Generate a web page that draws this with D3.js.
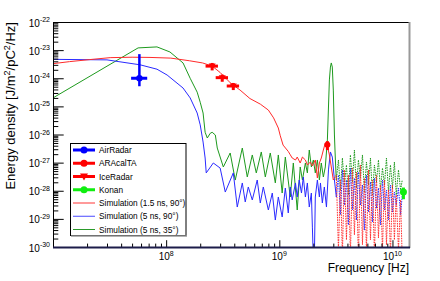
<!DOCTYPE html>
<html><head><meta charset="utf-8">
<script src="https://cdn.jsdelivr.net/npm/d3@7"></script>
<style>body{margin:0;background:#fff} text{font-family:"Liberation Sans",Arial,Helvetica,sans-serif}</style>
</head><body><svg id="c" width="440" height="281"></svg>
<script>
// ---------- data ----------
const xDomain = [1e7, 1.4e10];
const yDomain = [1e-30, 1e-22];
const xLabelExps = [8, 9, 10];
const yLabelExps = [-22, -23, -24, -25, -26, -27, -28, -29, -30];

// Simulation (1.5 ns, 90deg) - red, solid part
const sim15Freq = [1.0e7,1.4e7,2.1e7,3.2e7,5.0e7,7.2e7,1.1e8,1.6e8,2.1e8,2.55e8,3.0e8,3.7e8,4.5e8,5.5e8,6.8e8,8.0e8,8.9e8,9.8e8,1.02e9,1.08e9,1.2e9,1.25e9,1.30e9,1.39e9,1.44e9,1.53e9,1.60e9,1.70e9,1.77e9,1.88e9,1.96e9,2.08e9,2.17e9,2.26e9,2.35e9,2.45e9,2.55e9,2.66e9,2.77e9,2.88e9,3.00e9];
const sim15Val  = [3.3e-24,3.9e-24,4.6e-24,5.4e-24,5.6e-24,5.5e-24,5.2e-24,4.2e-24,3.5e-24,2.7e-24,1.6e-24,6.8e-25,3.8e-25,1.9e-25,1.2e-25,7.4e-26,3.9e-26,1.7e-26,9e-27,4.2e-27,2.5e-27,1.9e-27,1.46e-27,1.24e-27,1.58e-27,9.7e-28,1.58e-27,1.24e-27,8.2e-28,1.05e-27,7.6e-28,1.24e-27,2.84e-28,9.7e-28,1.46e-27,2.81e-27,5.0e-27,3.9e-27,1.87e-27,7.0e-28,2.41e-28];

// Simulation (5 ns, 90deg) - blue, solid part
const sim5Freq = [1.0e7,3.0e7,5.9e7,8.3e7,1.02e8,1.41e8,1.63e8,1.88e8,2.0e8,2.12e8,2.21e8,2.26e8,2.61e8,3.0e8,3.33e8,3.92e8,4.25e8,4.71e8,5.0e8,5.32e8,5.77e8,6.38e8,6.79e8,7.22e8,8.0e8,8.67e8,9.22e8,9.8e8,1.06e9,1.13e9,1.2e9,1.25e9,1.30e9,1.39e9,1.44e9,1.50e9,1.57e9,1.63e9,1.70e9,1.77e9,1.84e9,1.92e9,1.96e9,2.00e9,2.04e9,2.08e9,2.17e9,2.26e9,2.31e9,2.40e9,2.50e9,2.61e9,2.72e9,2.83e9,2.94e9,3.07e9,3.19e9];
const sim5Val  = [4.7e-24,4.5e-24,3.0e-24,2.1e-24,1.3e-24,4.5e-25,2.0e-25,5.8e-26,2.2e-26,5.4e-27,1.46e-27,4.3e-28,9.7e-28,6.4e-28,9.0e-29,4.3e-28,2.64e-29,1.89e-28,4.0e-29,1.36e-28,4.7e-29,2.41e-28,3.67e-29,1.36e-28,2.07e-29,8.3e-29,9.1e-30,6.0e-29,1.17e-29,1.25e-28,1.62e-29,1.36e-28,4.7e-29,1.89e-28,6.0e-29,2.41e-28,8.3e-29,3.08e-28,6.0e-29,1.89e-28,2.64e-29,8.3e-29,5.1e-30,3.5e-31,3.5e-31,6.0e-29,2.41e-28,6.0e-29,1.89e-28,3.67e-29,1.36e-28,2.64e-29,5.5e-28,2.39e-27,1.58e-27,2.41e-28,6.0e-29];

// Simulation (5 ns, 35deg) - green, solid part
const sim35Freq = [1.0e7,5.65e7,8.3e7,1.08e8,1.41e8,1.63e8,1.88e8,2.0e8,2.12e8,2.21e8,2.31e8,2.45e8,2.55e8,2.72e8,2.83e8,3.2e8,3.68e8,4.08e8,4.71e8,5.21e8,5.77e8,6.26e8,6.93e8,7.52e8,8.32e8,9.22e8,9.8e8,1.06e9,1.13e9,1.25e9,1.33e9,1.44e9,1.53e9,1.60e9,1.70e9,1.77e9,1.84e9,1.92e9,2.00e9,2.08e9,2.17e9,2.26e9,2.35e9,2.45e9,2.55e9,2.66e9,2.72e9,2.77e9,2.83e9,2.88e9,2.94e9,3.00e9,3.07e9,3.13e9,3.19e9];
const sim35Val  = [2.0e-25,1.2e-23,1.3e-23,8.6e-24,3.5e-24,1.0e-24,3.2e-25,1.4e-25,5.8e-26,1.2e-26,7.5e-27,1.1e-26,1.2e-26,9.6e-27,3.3e-27,7.0e-28,2.2e-27,2.4e-28,3.3e-27,3.1e-28,1.87e-27,4.3e-28,2.39e-27,3.1e-28,2.2e-27,1.9e-28,1.87e-27,8.3e-29,1.58e-27,6.0e-29,9.7e-28,2.07e-29,7.0e-28,2.41e-28,9.7e-28,4.3e-28,2.81e-27,7.0e-28,1.24e-27,4.3e-28,1.24e-27,2.41e-28,9.7e-28,3.08e-28,7.0e-28,6.4e-27,9.5e-26,8.7e-25,2.5e-24,3.5e-24,2.5e-24,3.8e-25,9.6e-27,1.24e-27,2.41e-28];

// high-frequency (dotted) part, shared frequency grid
const noiseFreq = [3.19e9,3.33e9,3.47e9,3.61e9,3.76e9,3.92e9,4.08e9,4.25e9,4.43e9,4.61e9,4.80e9,5.00e9,5.21e9,5.43e9,5.65e9,5.89e9,6.14e9,6.39e9,6.65e9,6.93e9,7.22e9,7.52e9,7.83e9,8.16e9,8.50e9,8.85e9,9.22e9,9.60e9,1.00e10,1.04e10,1.08e10,1.13e10,1.18e10,1.22e10];
const sim15Noise = [3.6e-28,7.8e-31,2.4e-28,5e-31,5.5e-28,1.8e-30,3.6e-28,5.2e-31,6.4e-28,2.7e-30,4.6e-28,3.5e-31,8.2e-28,1.2e-30,2.8e-28,7.8e-31,5.5e-28,1.8e-30,2.4e-28,5.2e-31,3.6e-28,2.1e-30,1.6e-28,7.8e-31,2.4e-28,1.2e-30,1.1e-28,5.2e-31,1.6e-28,1.8e-30,7.1e-29,7.8e-31,4.7e-29,3.5e-31];
const sim5Noise = [6.0e-29,3.6e-28,1.4e-29,5.5e-28,3.1e-29,2.4e-28,6.1e-30,6.4e-28,2.1e-29,2.8e-28,9.1e-30,4.6e-28,3.1e-29,1.6e-28,4.0e-30,3.6e-28,1.75e-29,2.05e-28,7.7e-30,2.8e-28,2.4e-29,1.25e-28,6.1e-30,2.4e-28,2.1e-29,1.06e-28,9.1e-30,1.6e-28,1.75e-29,9.0e-29,3.1e-29,1.25e-28,1.4e-29,7.1e-29];
const sim35Noise = [2.4e-28,1.24e-27,1.06e-28,1.46e-27,1.6e-28,8.2e-28,7.1e-29,1.87e-27,2.05e-28,2.8e-27,1.25e-28,1.24e-27,2.8e-28,1.87e-27,9.0e-29,1.05e-27,1.6e-28,1.46e-27,7.1e-29,8.2e-28,2.05e-28,1.24e-27,1.06e-28,6.4e-28,1.6e-28,1.46e-27,9.0e-29,8.2e-28,1.25e-28,1.05e-27,7.1e-29,5.5e-28,1.06e-28,2.4e-28];

// measurements
const airFreq = [5.8e7], airVal = [1.0e-24], airFreqLo = [4.9e7], airFreqHi = [6.8e7], airValLo = [5.2e-25], airValHi = [7.2e-24];
const iceFreq = [2.55e8, 3.13e8, 3.92e8], iceVal = [2.7e-24, 1.05e-24, 5.3e-25];
const iceFreqErr = [3.2e7, 3.9e7, 4.9e7], iceValErr = [0.8e-24, 0.3e-24, 0.15e-24];
const araFreq = [2.66e9], araVal = [4.3e-27], araFreqErr = [1.0e8], araValErr = [1.5e-27];
const konanFreq = [1.25e10], konanVal = [9e-29], konanValErr = [4e-29];

const legendLabels = ["AirRadar","ARAcalTA","IceRadar","Konan","Simulation (1.5 ns, 90°)","Simulation (5 ns, 90°)","Simulation (5 ns, 35°)"];

// ---------- drawing ----------
const RED = "#ff0000", BLUE = "#0000ff", GREEN = "#10ee10";
const C15 = "#ff2a2a", C5 = "#2a2aff", C35 = "#1e9a1e";
const L = 53, R = 409, T = 22, B = 247;
const svg = d3.select("#c");
svg.append("rect").attr("width", 440).attr("height", 281).attr("fill", "#fff");
const x = d3.scaleLog().domain(xDomain).range([L, R]);
const y = d3.scaleLog().domain(yDomain).range([B, T]);

svg.append("defs").append("clipPath").attr("id", "clip")
  .append("rect").attr("x", L).attr("y", T).attr("width", R - L).attr("height", B - T);
const plot = svg.append("g").attr("clip-path", "url(#clip)");
const zip = (f, v) => f.map((a, i) => [a, v[i]]);
const line = d3.line().x(d => x(d[0])).y(d => y(d[1]));

const sims = [
  {f: sim35Freq, v: sim35Val, n: sim35Noise, c: C35},
  {f: sim5Freq, v: sim5Val, n: sim5Noise, c: C5},
  {f: sim15Freq, v: sim15Val, n: sim15Noise, c: C15}
];
sims.forEach(s => {
  const solid = zip(s.f, s.v);
  plot.append("path").attr("d", line(solid)).attr("fill", "none")
    .attr("stroke", s.c).attr("stroke-width", 1);
  const dots = [solid[solid.length - 1]].concat(zip(noiseFreq, s.n));
  plot.append("path").attr("d", line(dots)).attr("fill", "none")
    .attr("stroke", s.c).attr("stroke-width", 1).attr("stroke-dasharray", "1.5,1");
});

// error bars + markers
function errBar(g, x1, y1, x2, y2, col, w) {
  g.append("line").attr("x1", x1).attr("y1", y1).attr("x2", x2).attr("y2", y2)
    .attr("stroke", col).attr("stroke-width", w);
}
const mk = svg.append("g").attr("clip-path", "url(#clip)");
airFreq.forEach((f, i) => {
  errBar(mk, x(airFreqLo[i]), y(airVal[i]), x(airFreqHi[i]), y(airVal[i]), BLUE, 3);
  errBar(mk, x(f), y(airValLo[i]), x(f), y(airValHi[i]), BLUE, 2.5);
  mk.append("circle").attr("cx", x(f)).attr("cy", y(airVal[i])).attr("r", 3.2).attr("fill", BLUE);
});
iceFreq.forEach((f, i) => {
  errBar(mk, x(f - iceFreqErr[i]), y(iceVal[i]), x(f + iceFreqErr[i]), y(iceVal[i]), RED, 3);
  errBar(mk, x(f), y(iceVal[i] - iceValErr[i]), x(f), y(iceVal[i] + iceValErr[i]), RED, 3);
  const cx = x(f), cy = y(iceVal[i]);
  mk.append("path").attr("d", `M${cx-3.5},${cy-2.5}L${cx+3.5},${cy-2.5}L${cx},${cy+3.5}Z`).attr("fill", RED);
});
araFreq.forEach((f, i) => {
  errBar(mk, x(f - araFreqErr[i]), y(araVal[i]), x(f + araFreqErr[i]), y(araVal[i]), RED, 3);
  errBar(mk, x(f), y(araVal[i] - araValErr[i]), x(f), y(araVal[i] + araValErr[i]), RED, 3);
  mk.append("circle").attr("cx", x(f)).attr("cy", y(araVal[i])).attr("r", 3).attr("fill", RED);
});
konanFreq.forEach((f, i) => {
  errBar(mk, x(f), y(konanVal[i] - konanValErr[i]), x(f), y(konanVal[i] + konanValErr[i]), GREEN, 3);
  mk.append("circle").attr("cx", x(f)).attr("cy", y(konanVal[i])).attr("r", 3.5).attr("fill", GREEN);
});

// axes ticks
const yMajor = yLabelExps.map(e => Math.pow(10, e));
const yMinor = [];
for (let e = -30; e < -22; e++) for (let m = 2; m <= 9; m++) yMinor.push(m * Math.pow(10, e));
const xMajor = xLabelExps.map(e => Math.pow(10, e));
const xMinor = [];
for (let e = 7; e < 10; e++) for (let m = 2; m <= 9; m++) xMinor.push(m * Math.pow(10, e));

const ax = svg.append("g");
function tickAxis(axis, tr) {
  ax.append("g").attr("transform", tr).call(axis)
    .call(g => g.select(".domain").remove())
    .call(g => g.selectAll(".tick line").attr("stroke", "#000"));
}
tickAxis(d3.axisLeft(y).tickValues(yMajor).tickSize(-10.7).tickFormat(""), `translate(${L},0)`);
tickAxis(d3.axisLeft(y).tickValues(yMinor).tickSize(-5.3).tickFormat(""), `translate(${L},0)`);
tickAxis(d3.axisBottom(x).tickValues(xMajor).tickSize(-6.8).tickFormat(""), `translate(0,${B})`);
tickAxis(d3.axisBottom(x).tickValues(xMinor).tickSize(-3.4).tickFormat(""), `translate(0,${B})`);

// frame
ax.append("line").attr("x1", L).attr("x2", R).attr("y1", T + 0.5).attr("y2", T + 0.5).attr("stroke", "#000");
ax.append("line").attr("x1", L + 0.5).attr("x2", L + 0.5).attr("y1", T).attr("y2", B).attr("stroke", "#000");
ax.append("line").attr("x1", R + 0.5).attr("x2", R + 0.5).attr("y1", T).attr("y2", B + 1).attr("stroke", "#999").attr("stroke-width", 2);
ax.append("line").attr("x1", L).attr("x2", R + 1).attr("y1", B + 0.5).attr("y2", B + 0.5).attr("stroke", "#1c1c4a").attr("stroke-width", 2);

// tick labels
yLabelExps.forEach(e => {
  const t = svg.append("text").attr("x", 50).attr("y", y(Math.pow(10, e)) + 4.5)
    .attr("text-anchor", "end").attr("font-size", 10).attr("fill", "#000").text("10");
  t.append("tspan").attr("dy", -4.5).attr("font-size", 7).text(String(e));
});
xLabelExps.forEach(e => {
  const t = svg.append("text").attr("x", x(Math.pow(10, e))).attr("y", 260)
    .attr("text-anchor", "middle").attr("font-size", 10).attr("fill", "#000").text("10");
  t.append("tspan").attr("dy", -4.5).attr("font-size", 7).text(String(e));
});

// axis titles
svg.append("text").attr("x", R).attr("y", 272).attr("text-anchor", "end")
  .attr("font-size", 12).text("Frequency [Hz]");
const yt = svg.append("text").attr("transform", `translate(15,${T}) rotate(-90)`)
  .attr("text-anchor", "end").attr("font-size", 13);
yt.append("tspan").text("Energy density [J/m");
yt.append("tspan").attr("dy", -5).attr("font-size", 9).text("2");
yt.append("tspan").attr("dy", 5).text("/pC");
yt.append("tspan").attr("dy", -5).attr("font-size", 9).text("2");
yt.append("tspan").attr("dy", 5).text("/Hz]");

// legend
const lg = svg.append("g");
lg.append("rect").attr("x", 70.5).attr("y", 143.5).attr("width", 115.5).attr("height", 92)
  .attr("fill", "#fff").attr("stroke", "#000").attr("stroke-width", 1);
lg.append("line").attr("x1", 71).attr("x2", 187).attr("y1", 236).attr("y2", 236).attr("stroke", "#999").attr("stroke-width", 1.5);
const styles = [
  {c: BLUE, w: 3, m: "circle"},
  {c: RED, w: 3, m: "circle"},
  {c: RED, w: 3, m: "tri"},
  {c: GREEN, w: 3, m: "circle"},
  {c: "#ff9a9a", w: 2, m: null},
  {c: "#4a4aff", w: 1, m: null},
  {c: "#2a9a2a", w: 1, m: null}
];
legendLabels.forEach((lab, i) => {
  const cy = 150 + i * 13.25;
  const s = styles[i];
  lg.append("line").attr("x1", 73).attr("x2", 95).attr("y1", cy).attr("y2", cy)
    .attr("stroke", s.c).attr("stroke-width", s.w);
  if (s.m === "circle") lg.append("circle").attr("cx", 84).attr("cy", cy).attr("r", 3.5).attr("fill", s.c);
  if (s.m === "tri") lg.append("path").attr("d", `M80,${cy-3}L88,${cy-3}L84,${cy+4}Z`).attr("fill", s.c);
  lg.append("text").attr("x", 99).attr("y", cy + 3).attr("font-size", 8.3).attr("fill", "#000").text(lab);
});
</script></body></html>
